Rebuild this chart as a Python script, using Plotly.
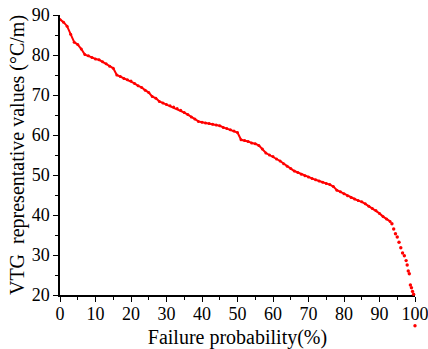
import plotly.graph_objects as go

failure_prob = list(range(0, 94)) + [93.5, 94.0, 94.5, 95.0, 95.5, 96.0, 96.5, 97.0, 97.5, 97.8,
                                     98.1, 98.4, 98.7, 99.0, 99.3, 99.6, 100.0]
vtg_values = [
    88.9, 88.2, 87.2, 85.2, 83.2, 82.6, 81.5, 80.1, 79.8, 79.4,
    79.0, 78.8, 78.3, 77.8, 77.2, 76.7, 75.0, 74.6, 74.1, 73.8,
    73.5, 72.9, 72.3, 71.9, 71.2, 70.6, 69.6, 69.2, 68.4, 68.0,
    67.6, 67.3, 67.0, 66.6, 66.2, 65.6, 65.1, 64.5, 64.0, 63.4,
    63.2, 63.0, 62.9, 62.7, 62.5, 62.3, 61.9, 61.6, 61.3, 61.0,
    60.6, 58.8, 58.6, 58.4, 58.0, 57.8, 57.4, 56.5, 55.5, 55.0,
    54.6, 54.0, 53.5, 52.8, 52.2, 51.6, 51.0, 50.6, 50.2, 49.8,
    49.5, 49.1, 48.8, 48.5, 48.2, 47.9, 47.6, 47.1, 46.2, 45.8,
    45.3, 44.8, 44.4, 44.0, 43.6, 43.3, 42.8, 42.2, 41.6, 41.1,
    40.4, 39.6, 39.0, 38.4,
    37.8, 36.5, 35.3, 34.5, 33.2, 31.8, 30.5, 29.8, 28.6, 27.5,
    26.0, 25.3, 22.5, 21.8, 20.9, 20.2, 12.3,
]

x_ticks = [0, 10, 20, 30, 40, 50, 60, 70, 80, 90, 100]
y_ticks = [20, 30, 40, 50, 60, 70, 80, 90]

font_family = "Liberation Serif"
RED = "#ff0000"

# geometry: visible y axis spans [20, 90]; an invisible twin subplot with the same
# scale extends lower so the last sample (below 20) stays visible, as in the source.
W, H = 428, 349
M_L, M_R, M_T, M_B = 60, 13, 15, 20
plot_h = H - M_T - M_B
px_per_unit = 4.0
vis_h = (90 - 20) * px_per_unit
y_dom_bottom = 1 - vis_h / plot_h
y2_min = 90 - plot_h / px_per_unit

split = 94  # dense part drawn joined, steep tail as separate dots

fig = go.Figure()
fig.add_trace(go.Scatter(
    x=failure_prob[:split], y=vtg_values[:split], mode="lines+markers",
    line=dict(color=RED, width=2),
    marker=dict(color=RED, size=3, line=dict(width=0)),
    xaxis="x", yaxis="y", showlegend=False,
))
fig.add_trace(go.Scatter(
    x=failure_prob[split:], y=vtg_values[split:], mode="markers",
    marker=dict(color=RED, size=3.4, line=dict(width=0)),
    xaxis="x2", yaxis="y2", showlegend=False, cliponaxis=False,
))

axis_common = dict(
    showline=True, linecolor="black", linewidth=1.5,
    ticks="outside", ticklen=5, tickwidth=1.2, tickcolor="black",
    showgrid=False, zeroline=False, mirror=False, automargin=False,
    ticklabeloverflow="allow",
    tickfont=dict(family=font_family, size=18, color="black"),
    minor=dict(ticks="outside", ticklen=3, tickwidth=1, tickcolor="black", dtick=5),
)

fig.update_layout(
    width=W, height=H,
    margin=dict(l=M_L, r=M_R, t=M_T, b=M_B),
    paper_bgcolor="white", plot_bgcolor="rgba(0,0,0,0)",
    xaxis=dict(range=[0, 100], tickvals=x_ticks, anchor="y", domain=[0, 1],
               ticklabelstandoff=-3,
               title=dict(text="Failure probability(%)", standoff=8,
                          font=dict(family=font_family, size=20, color="black")),
               **axis_common),
    yaxis=dict(range=[20, 90], tickvals=y_ticks, domain=[y_dom_bottom, 1], anchor="x",
               title=dict(text="VTG  representative values (°C/m)", standoff=2,
                          font=dict(family=font_family, size=20, color="black")),
               **axis_common),
    xaxis2=dict(range=[0, 100], domain=[0, 1], anchor="y2", visible=False,
                showgrid=False, zeroline=False),
    yaxis2=dict(range=[y2_min, 90], domain=[0, 1], anchor="x2", visible=False,
                showgrid=False, zeroline=False),
)

fig.write_html("out.html")
